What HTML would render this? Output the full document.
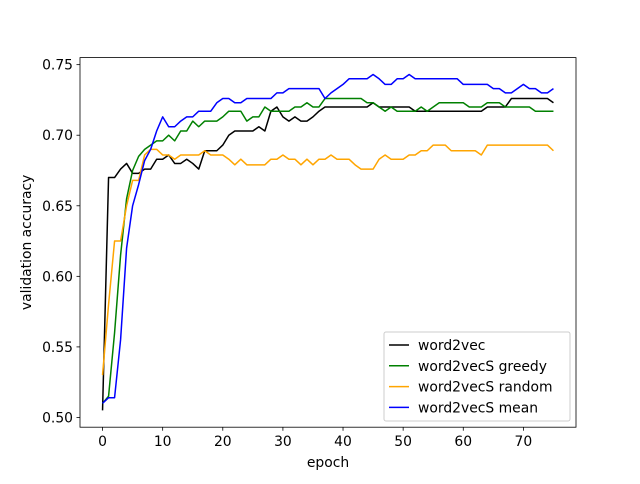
<!DOCTYPE html>
<html><head><meta charset="utf-8"><style>
body{margin:0;background:#fff;font-family:"DejaVu Sans","Liberation Sans",sans-serif}
svg text{font-family:"DejaVu Sans","Liberation Sans",sans-serif;font-size:13.9px;fill:#000}
</style></head><body>
<svg id="chart" width="640" height="480" xmlns="http://www.w3.org/2000/svg"></svg>
<script>
const ticksX=[0,10,20,30,40,50,60,70];
const ticksY=[0.50,0.55,0.60,0.65,0.70,0.75];
const seriesNames=["word2vec","word2vecS greedy","word2vecS random","word2vecS mean"];
const seriesColors=["#000000","#008000","#ffa500","#0000ff"];
const w2v=[0.505,0.670,0.670,0.676,0.680,0.673,0.673,0.676,0.676,0.683,0.683,0.686,0.680,0.680,0.683,0.680,0.676,0.689,0.689,0.689,0.693,0.700,0.703,0.703,0.703,0.703,0.706,0.703,0.717,0.720,0.713,0.710,0.713,0.710,0.710,0.713,0.717,0.720,0.720,0.720,0.720,0.720,0.720,0.720,0.720,0.723,0.720,0.720,0.720,0.720,0.720,0.720,0.717,0.717,0.717,0.717,0.717,0.717,0.717,0.717,0.717,0.717,0.717,0.717,0.720,0.720,0.720,0.720,0.726,0.726,0.726,0.726,0.726,0.726,0.726,0.723];
const greedy=[0.510,0.515,0.560,0.615,0.655,0.675,0.685,0.690,0.693,0.696,0.696,0.700,0.696,0.703,0.703,0.710,0.706,0.710,0.710,0.710,0.713,0.717,0.717,0.717,0.710,0.713,0.713,0.720,0.717,0.717,0.717,0.717,0.720,0.720,0.723,0.720,0.720,0.726,0.726,0.726,0.726,0.726,0.726,0.726,0.723,0.723,0.720,0.717,0.720,0.717,0.717,0.717,0.717,0.720,0.717,0.720,0.723,0.723,0.723,0.723,0.723,0.720,0.720,0.720,0.723,0.723,0.723,0.720,0.720,0.720,0.720,0.720,0.717,0.717,0.717,0.717];
const random=[0.530,0.580,0.625,0.625,0.650,0.668,0.668,0.686,0.690,0.690,0.686,0.686,0.683,0.686,0.686,0.686,0.686,0.689,0.686,0.686,0.686,0.683,0.679,0.683,0.679,0.679,0.679,0.679,0.683,0.683,0.686,0.683,0.683,0.679,0.683,0.679,0.683,0.683,0.686,0.683,0.683,0.683,0.679,0.676,0.676,0.676,0.683,0.686,0.683,0.683,0.683,0.686,0.686,0.689,0.689,0.693,0.693,0.693,0.689,0.689,0.689,0.689,0.689,0.686,0.693,0.693,0.693,0.693,0.693,0.693,0.693,0.693,0.693,0.693,0.693,0.689];
const mean=[0.510,0.514,0.514,0.555,0.620,0.650,0.665,0.682,0.690,0.703,0.713,0.706,0.706,0.710,0.713,0.713,0.717,0.717,0.717,0.723,0.726,0.726,0.723,0.723,0.726,0.726,0.726,0.726,0.726,0.730,0.730,0.733,0.733,0.733,0.733,0.733,0.733,0.726,0.730,0.733,0.736,0.740,0.740,0.740,0.740,0.743,0.740,0.736,0.736,0.740,0.740,0.743,0.740,0.740,0.740,0.740,0.740,0.740,0.740,0.740,0.736,0.736,0.736,0.736,0.736,0.733,0.733,0.730,0.730,0.733,0.736,0.733,0.733,0.730,0.730,0.733];
const allSeries=[w2v,greedy,random,mean];

const L=80,R=576,T=57.6,B=427.2;
const xMin=-3.75,xMax=78.75,yMin=0.4931,yMax=0.7550;
const sx=v=>L+(v-xMin)/(xMax-xMin)*(R-L);
const sy=v=>B-(v-yMin)/(yMax-yMin)*(B-T);
const svg=document.getElementById('chart');
const NS="http://www.w3.org/2000/svg";
function mk(tag,attrs,parent){const e=document.createElementNS(NS,tag);for(const k in attrs)e.setAttribute(k,attrs[k]);(parent||svg).appendChild(e);return e;}

allSeries.forEach((s,i)=>{
  const p=mk('polyline',{points:s.map((v,j)=>sx(j)+','+sy(v)).join(' '),fill:'none',stroke:seriesColors[i],'stroke-width':1.5,'stroke-linejoin':'round'});
  
  
});
const frame=mk('rect',{x:L,y:T,width:R-L,height:B-T,fill:'none',stroke:'#000','stroke-width':0.8});



ticksX.forEach(t=>{
  const x=sx(t);
  const tk=mk('line',{x1:x,x2:x,y1:B,y2:B+3.5,stroke:'#000','stroke-width':0.8});
  
  
  const tx=mk('text',{x:x,y:B+19,'text-anchor':'middle'});tx.textContent=t;
  
  
});
ticksY.forEach(t=>{
  const y=sy(t);
  const tk=mk('line',{x1:L-3.5,x2:L,y1:y,y2:y,stroke:'#000','stroke-width':0.8});
  
  
  const tx=mk('text',{x:L-7,y:y+5,'text-anchor':'end'});tx.textContent=t.toFixed(2);
  
  
});
const xt=mk('text',{x:(L+R)/2,y:467,'text-anchor':'middle'});xt.textContent='epoch';


const yt=mk('text',{x:0,y:0,'text-anchor':'middle',transform:'translate(31,'+(T+B)/2+') rotate(-90)'});yt.textContent='validation accuracy';



const lg=mk('g',{});


mk('rect',{x:384,y:332,width:186,height:89,rx:2,fill:'#fff','fill-opacity':0.8,stroke:'#ccc','stroke-width':1},lg);
seriesNames.forEach((n,i)=>{
  const y=345+i*20.8;
  const ln=mk('line',{x1:389,x2:409,y1:y,y2:y,stroke:seriesColors[i],'stroke-width':1.5},lg);
  
  
  const tx=mk('text',{x:418,y:y+5},lg);tx.textContent=n;
  
  
});
</script>
</body></html>
